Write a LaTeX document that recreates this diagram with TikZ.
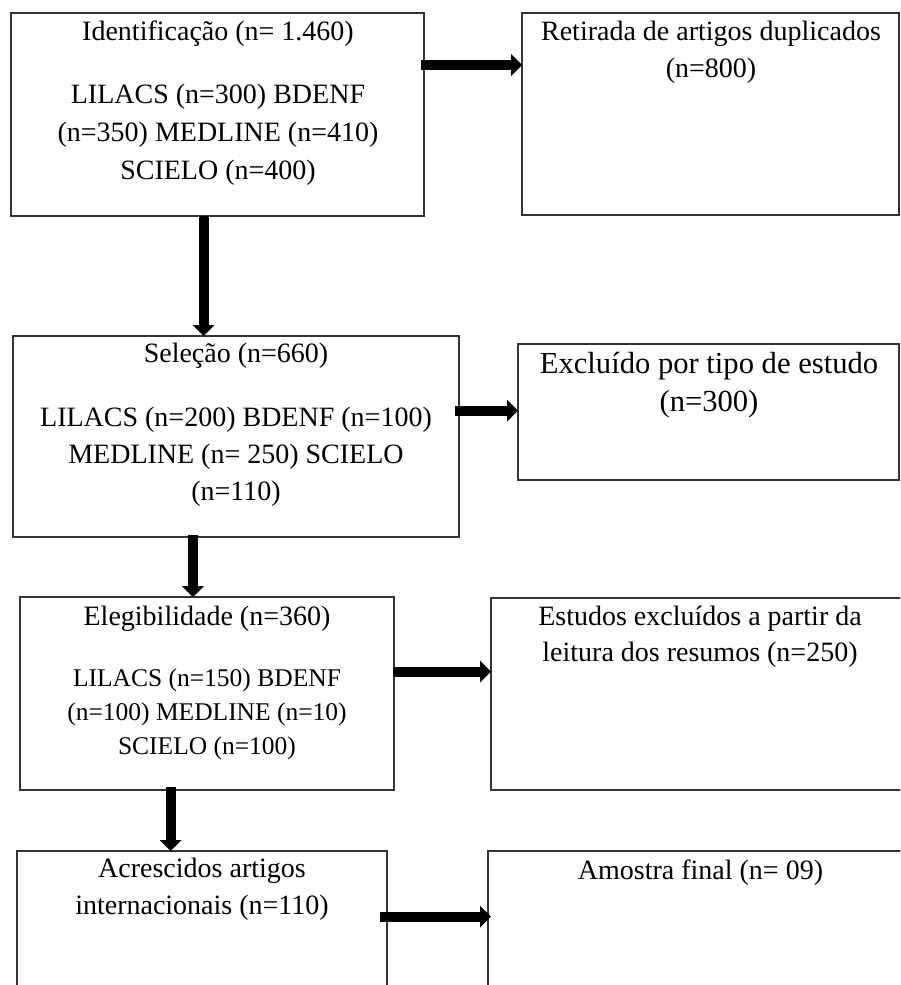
\documentclass[tikz,border=0pt]{standalone}
\usepackage{fontspec}
\setmainfont{Liberation Serif}
\usetikzlibrary{arrows.meta}
\newcommand\boxtext[3]{\fontsize{#1}{#2}\selectfont\begin{tabular}[t]{@{}c@{}}#3\end{tabular}}
\begin{document}
\begin{tikzpicture}[x=1pt,y=-1pt,
  box/.style={draw=black!80, line width=1.8pt, rectangle, outer sep=0pt, inner sep=0pt, anchor=north west},
  txt/.style={anchor=base, inner sep=0pt, outer sep=0pt},
  flow/.style={line width=10pt, -{Triangle[length=11pt,width=22pt,line width=0pt]}}]
\useasboundingbox (0,0) rectangle (900,985);
\clip (0,0) rectangle (900,985);
% boxes
\node[box, minimum width=413pt, minimum height=203pt] (b1) at (11,13) {};
\node[box, minimum width=377pt, minimum height=202pt] (r1) at (522,13) {};
\node[box, minimum width=446pt, minimum height=201pt] (b2) at (13,336) {};
\node[box, minimum width=381pt, minimum height=136pt] (r2) at (518,344) {};
\node[box, minimum width=374pt, minimum height=193pt] (b3) at (20,597) {};
\node[box, minimum width=424pt, minimum height=192pt] (r3) at (491,598) {};
\node[box, minimum width=370pt, minimum height=160pt] (b4) at (17,851) {};
\node[box, minimum width=427pt, minimum height=160pt] (r4) at (488,851) {};
% texts
\node[txt] (t1) at (218,40.7) {\boxtext{28}{38.2}{Identificação (n= 1.460)\\[24.4pt]
  LILACS (n=300) BDENF\\ (n=350) MEDLINE (n=410)\\ SCIELO (n=400)}};
\node[txt] (tr1) at (711,40) {\boxtext{28}{37.3}{Retirada de artigos duplicados\\ (n=800)}};
\node[txt] (t2) at (236,362.7) {\boxtext{28}{37}{Seleção (n=660)\\[26.3pt]
  LILACS (n=200) BDENF (n=100)\\ MEDLINE (n= 250) SCIELO\\ (n=110)}};
\node[txt] (tr2) at (709,373.3) {\boxtext{30.6}{38.4}{Excluído por tipo de estudo\\ (n=300)}};
\node[txt] (t3) at (207,625) {\boxtext{25.5}{34}{\fontsize{28}{34}\selectfont Elegibilidade (n=360)\\[27pt]
  LILACS (n=150) BDENF\\ (n=100) MEDLINE (n=10)\\ SCIELO (n=100)}};
\node[txt] (tr3) at (700,625) {\boxtext{28}{36.7}{Estudos excluídos a partir da\\ leitura dos resumos (n=250)}};
\node[txt] (t4) at (202,877.7) {\boxtext{28}{36.6}{Acrescidos artigos\\ internacionais (n=110)}};
\node[txt] (tr4) at (700.5,879) {\boxtext{28}{36.6}{Amostra final (n= 09)}};
% arrows
\draw[flow] ([xshift=-3pt,yshift=-52pt]b1.north east) -- ([yshift=-52pt]r1.north west);
\draw[flow] ([xshift=192.7pt]b1.south west) -- ([xshift=190.7pt]b2.north west);
\draw[flow] ([xshift=-4pt,yshift=-74.7pt]b2.north east) -- ([yshift=-66.7pt]r2.north west);
\draw[flow] ([xshift=180pt,yshift=2pt]b2.south west) -- ([xshift=173pt]b3.north west);
\draw[flow] ([xshift=-1pt,yshift=-74.7pt]b3.north east) -- ([yshift=-73.7pt]r3.north west);
\draw[flow] ([xshift=150.7pt,yshift=3pt]b3.south west) -- ([xshift=153.7pt]b4.north west);
\draw[flow] ([xshift=-7pt,yshift=-65.7pt]b4.north east) -- ([xshift=3pt,yshift=-65.7pt]r4.north west);
\end{tikzpicture}
\end{document}
